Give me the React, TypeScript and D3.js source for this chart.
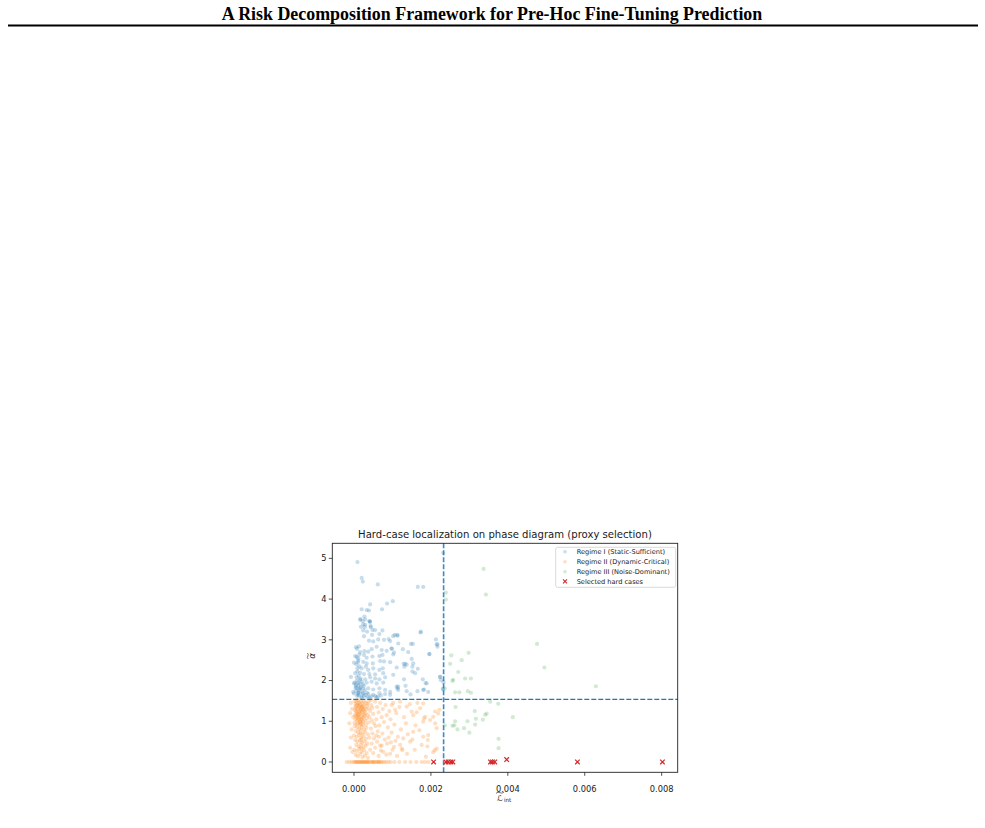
import React from "react";
import * as d3 from "d3";

// ---------- text ----------
const headerTitle = "A Risk Decomposition Framework for Pre-Hoc Fine-Tuning Prediction";
const chartTitle = "Hard-case localization on phase diagram (proxy selection)";
const legendLabels = [
  "Regime I (Static-Sufficient)",
  "Regime II (Dynamic-Critical)",
  "Regime III (Noise-Dominant)",
  "Selected hard cases",
];

// ---------- axes ----------
const xTickValues = [0, 0.002, 0.004, 0.006, 0.008];
const xTickLabels = ["0.000", "0.002", "0.004", "0.006", "0.008"];
const yTickValues = [0, 1, 2, 3, 4, 5];
const yTickLabels = ["0", "1", "2", "3", "4", "5"];
const xDomain = [-0.000564, 0.008417];
const yDomain = [-0.253, 5.37];

// thresholds (dashed lines)
const thresholdL = 0.00233;
const thresholdAlpha = 1.54;

// ---------- data: [L_int in units of 1e-3, alpha] ----------
const regime1 = [
  [0.09, 4.91], [0.2, 4.52], [0.23, 4.43], [0.62, 4.36], [1.66, 4.3], [1.8, 4.3], [2.32, 5.13],
  [0.42, 3.87], [1.01, 3.95], [0.86, 3.89], [0.2, 3.75], [0.39, 3.72], [0.73, 3.75],
  [0.16, 3.49], [0.17, 3.51], [0.42, 3.44], [0.24, 3.38], [0.33, 3.73], [0.27, 3.57], [0.29, 3.5],
  [0.41, 3.45], [0.44, 3.31], [0.28, 3.31], [0.24, 3.23], [0.48, 3.24], [0.74, 3.23],
  [1.74, 3.2], [2.13, 3.01], [2.17, 2.89], [1.96, 2.65], [1.48, 2.9], [1.29, 2.41], [1.31, 2.34],
  [1.52, 2.34], [1.52, 2.22], [1.3, 2.03], [1.11, 1.85], [1.13, 1.81], [1.47, 1.66], [1.82, 1.78],
  [1.86, 1.94], [2.24, 2.09], [2.26, 2.01], [2.31, 1.8], [2.33, 1.96], [1.13, 3.12], [1.06, 3.12],
  [0.94, 2.97], [0.98, 2.78], [1.41, 2.7],
  [0.23, 3.46], [0.4, 3.46], [0.18, 3.32], [0.29, 3.37], [0.43, 3.34],
  [0.55, 3.24], [0.34, 3.2], [0.26, 3.09], [0.47, 3.12], [0.66, 3.14], [1.02, 3.09], [1.13, 3.1], [1.73, 3.18],
  [0.39, 2.98], [0.5, 2.96], [0.63, 3.01], [0.78, 3.0], [0.9, 3.02], [1.15, 2.91], [1.53, 2.9], [2.15, 2.89], [2.17, 2.83],
  [0.05, 2.82], [0.16, 2.7], [0.27, 2.72], [0.37, 2.71], [0.46, 2.77], [0.59, 2.83], [0.72, 2.75], [0.85, 2.73], [0.98, 2.79], [1.27, 2.77],
  [0.03, 2.6], [0.14, 2.64], [0.26, 2.63], [0.33, 2.56], [0.48, 2.59], [0.66, 2.6], [0.74, 2.63], [1.02, 2.64], [1.04, 2.69], [1.96, 2.65],
  [0.0, 2.44], [0.11, 2.49], [0.24, 2.46], [0.33, 2.42], [0.49, 2.42], [0.68, 2.48], [0.78, 2.47], [0.94, 2.45], [1.33, 2.41], [1.5, 2.53], [1.54, 2.42],
  [0.09, 2.3], [0.2, 2.3], [0.31, 2.34], [0.37, 2.26], [0.5, 2.3], [0.66, 2.26], [0.75, 2.3], [1.11, 2.32], [1.37, 2.39], [1.66, 2.29],
  [0.03, 2.18], [0.16, 2.19], [0.26, 2.16], [0.4, 2.16], [0.55, 2.15], [0.76, 2.18], [1.02, 2.14], [1.59, 2.18],
  [-0.08, 2.09], [0.07, 2.08], [0.17, 2.05], [0.29, 2.03], [0.42, 2.08], [0.55, 2.05], [0.66, 2.03], [0.81, 2.08], [1.79, 2.03], [2.24, 2.09],
  [0.0, 1.93], [0.11, 1.95], [0.23, 1.91], [0.33, 1.95], [0.46, 1.97], [0.59, 1.93], [0.76, 1.95], [1.15, 1.85], [1.34, 1.87], [1.89, 1.93],
  [0.05, 1.85], [0.16, 1.82], [0.26, 1.87], [0.37, 1.81], [0.5, 1.78], [0.66, 1.81], [0.81, 1.77], [0.94, 1.72], [1.15, 1.77], [1.37, 1.74],
  [1.65, 1.74], [1.8, 1.77], [1.93, 1.72], [2.32, 1.78],
  [-0.02, 1.72], [0.11, 1.7], [0.24, 1.69], [0.37, 1.67], [0.5, 1.65], [0.66, 1.69], [0.81, 1.67], [0.94, 1.65], [0.4, 1.59], [0.59, 1.59],
  [0.08, 1.62], [0.1, 1.66], [0.12, 1.7], [0.06, 1.75], [0.14, 1.78], [0.09, 1.8], [0.18, 1.84], [0.11, 1.88], [0.05, 1.9], [0.15, 1.92],
  [0.2, 1.97], [0.08, 2.0], [0.13, 1.63], [0.22, 1.68], [0.17, 1.74], [0.04, 1.82], [0.19, 1.6], [0.26, 1.62], [0.3, 1.64], [0.34, 1.7],
  [0.28, 1.76], [0.12, 2.12], [0.09, 2.22], [0.14, 2.35], [0.06, 2.4], [0.11, 2.55], [0.08, 2.78], [0.13, 2.84], [0.21, 1.57], [0.35, 1.58],
  [0.45, 1.61], [0.55, 1.62], [0.62, 1.6], [0.7, 1.63], [0.0, 1.68], [0.02, 1.95], [0.16, 2.02], [0.24, 1.8], [0.1, 2.45], [0.07, 2.58],
];

const regime2 = [
  // dense core
  [0.02, 1.5], [0.06, 1.48], [0.1, 1.52], [0.14, 1.46], [0.18, 1.5], [0.22, 1.44], [0.26, 1.49], [0.3, 1.45],
  [0.04, 1.42], [0.08, 1.4], [0.12, 1.38], [0.16, 1.41], [0.2, 1.36], [0.24, 1.39], [0.28, 1.34], [0.34, 1.38],
  [0.03, 1.33], [0.07, 1.3], [0.11, 1.32], [0.15, 1.28], [0.19, 1.31], [0.23, 1.27], [0.27, 1.25], [0.32, 1.29],
  [0.05, 1.24], [0.09, 1.21], [0.13, 1.23], [0.17, 1.19], [0.21, 1.22], [0.25, 1.17], [0.3, 1.2], [0.36, 1.16],
  [0.02, 1.15], [0.06, 1.12], [0.1, 1.14], [0.14, 1.1], [0.18, 1.12], [0.22, 1.08], [0.26, 1.11], [0.33, 1.07],
  [0.04, 1.05], [0.08, 1.02], [0.12, 1.04], [0.16, 1.0], [0.2, 1.03], [0.24, 0.98], [0.29, 1.01], [0.38, 0.97],
  [0.01, 0.96], [0.07, 0.93], [0.11, 0.95], [0.15, 0.91], [0.19, 0.94], [0.23, 0.9], [0.31, 0.92], [0.4, 1.1],
  [0.42, 1.25], [0.45, 1.4], [0.38, 1.48], [0.44, 1.52], [0.48, 1.33], [0.5, 1.18], [0.46, 1.02], [0.09, 1.09],
  [0.13, 1.17], [0.17, 1.26], [0.21, 1.35], [0.11, 1.44], [0.15, 1.36], [0.19, 1.05], [0.05, 1.37], [0.25, 1.3],
  [0.28, 1.14], [0.07, 1.18], [0.03, 1.27], [0.35, 1.43], [0.39, 1.32], [0.16, 0.97], [-0.02, 1.1], [-0.05, 1.3],
  [-0.08, 1.45], [-0.1, 1.2], [-0.12, 0.95],
  // lower middle
  [0.02, 0.88], [0.08, 0.85], [0.14, 0.82], [0.2, 0.86], [0.26, 0.8], [0.32, 0.84], [0.05, 0.76], [0.11, 0.73],
  [0.17, 0.78], [0.23, 0.7], [0.29, 0.74], [0.36, 0.68], [0.0, 0.65], [0.07, 0.62], [0.13, 0.66], [0.19, 0.6],
  [0.25, 0.63], [0.31, 0.57], [0.4, 0.6], [0.03, 0.54], [0.09, 0.5], [0.15, 0.53], [0.21, 0.47], [0.27, 0.51],
  [0.34, 0.45], [0.06, 0.42], [0.12, 0.38], [0.18, 0.43], [0.24, 0.36], [0.3, 0.4], [0.01, 0.3], [0.08, 0.27],
  [0.14, 0.32], [0.2, 0.25], [0.26, 0.29], [0.33, 0.22], [0.04, 0.18], [0.1, 0.14], [0.16, 0.2], [0.22, 0.12],
  [0.28, 0.16], [0.36, 0.1], [-0.08, 0.6], [-0.1, 0.35], [-0.06, 0.8], [-0.04, 0.25], [0.44, 0.82], [0.48, 0.7],
  [0.52, 0.58], [0.46, 0.45], [0.55, 0.35], [0.5, 0.22], [0.42, 0.3], [0.58, 0.65], [0.62, 0.75], [0.6, 0.5],
  [0.65, 0.62], [0.68, 0.4], [0.56, 0.88], [0.52, 0.95], [0.7, 0.28], [0.17, 0.7], [0.19, 0.55], [0.18, 0.35],
  // right side
  [0.98, 1.4], [1.07, 1.28], [1.2, 1.48], [1.37, 1.36], [1.5, 1.24], [1.54, 1.15], [1.72, 1.32], [1.8, 1.44],
  [1.85, 1.11], [1.98, 1.03], [2.11, 0.95], [2.19, 1.19], [2.22, 1.28], [2.15, 0.83], [1.93, 0.66], [1.8, 0.62],
  [1.76, 0.42], [1.54, 0.74], [1.46, 0.5], [1.28, 0.58], [1.24, 0.33], [1.91, 0.38], [1.87, 0.13], [2.15, 0.33],
  [2.06, 1.11], [2.11, 1.24], [2.1, 0.29], [2.06, 0.24], [1.92, 0.54], [1.8, 0.99], [1.82, 1.07], [1.63, 1.22],
  [1.26, 0.29], [1.04, 0.37], [1.52, 0.55],
  [0.55, 1.48], [0.6, 1.35], [0.64, 1.22], [0.68, 1.45], [0.72, 1.1], [0.75, 1.3], [0.78, 0.98], [0.82, 1.4],
  [0.85, 1.15], [0.88, 0.85], [0.92, 1.25], [0.95, 1.05], [0.98, 0.72], [1.02, 1.45], [1.05, 0.92], [1.1, 1.2],
  [1.14, 0.62], [1.18, 1.35], [1.22, 0.8], [1.3, 1.1], [1.35, 0.95], [1.4, 0.68], [1.45, 1.42], [0.58, 1.05],
  [0.66, 0.9], [0.74, 0.7], [0.8, 0.55], [0.86, 0.45], [0.9, 0.6], [0.96, 0.48], [1.0, 0.3], [1.08, 0.52],
  [0.76, 0.25], [0.84, 0.18], [0.64, 0.15], [0.72, 0.4], [0.94, 0.2], [1.12, 0.15], [1.2, 0.42], [1.6, 0.9],
  [1.65, 1.45], [1.7, 0.78], [1.38, 0.2], [1.58, 0.3],
  // alpha = 0 row
  [-0.19, 0], [-0.12, 0], [-0.06, 0], [-0.01, 0], [0.03, 0], [0.07, 0], [0.1, 0], [0.13, 0], [0.17, 0], [0.2, 0],
  [0.24, 0], [0.27, 0], [0.31, 0], [0.34, 0], [0.38, 0], [0.41, 0], [0.45, 0], [0.48, 0], [0.52, 0], [0.55, 0],
  [0.59, 0], [0.62, 0], [0.66, 0], [0.7, 0], [0.73, 0], [0.78, 0], [0.83, 0], [0.89, 0], [0.95, 0], [1.05, 0],
  [1.18, 0], [1.33, 0], [1.47, 0], [1.62, 0], [1.76, 0], [1.85, 0], [1.94, 0],
  [0.05, 0], [0.15, 0], [0.22, 0], [0.29, 0], [0.36, 0], [0.5, 0], [0.64, 0],
];

const regime3 = [
  [3.37, 4.74], [3.43, 4.11], [2.39, 4.16], [2.39, 3.99], [4.76, 2.9], [4.95, 2.32], [6.29, 1.86],
  [2.53, 2.62], [2.98, 2.68], [2.8, 2.5], [2.5, 2.41], [2.71, 2.21], [2.58, 2.02], [2.56, 1.99],
  [2.89, 2.05], [3.04, 2.05], [2.36, 1.81], [2.63, 1.71], [2.74, 1.71], [2.96, 1.74], [3.04, 1.7],
  [3.54, 1.48], [3.75, 1.43], [2.64, 1.35], [3.14, 1.25], [3.45, 1.19], [3.41, 1.16], [4.13, 1.1],
  [3.17, 1.06], [3.35, 1.04], [2.63, 1.0], [2.95, 1.0], [3.15, 0.92], [2.36, 0.9], [2.56, 0.89],
  [2.61, 0.9], [2.86, 0.83], [2.69, 0.8], [3.0, 0.72], [3.76, 0.57], [3.76, 0.34],
];

const hardCases = [
  [2.07, 0], [2.39, 0], [2.45, 0], [2.52, 0], [2.57, 0], [3.55, 0], [3.6, 0], [3.66, 0],
  [3.97, 0.06], [5.81, 0], [8.02, 0],
];

const MILLI = 1e-3;

// ---------- layout ----------
const W = 985;
const H = 828;
const plot = { left: 332.3, right: 677.7, top: 543.3, bottom: 772.3 };
const C0 = "#1f77b4";
const C1 = "#ff7f0e";
const C2 = "#2ca02c";
const C3 = "#d62728";
const FONT = "'DejaVu Sans', Verdana, sans-serif";

export default function App() {
  const x = d3.scaleLinear().domain(xDomain).range([plot.left, plot.right]);
  const y = d3.scaleLinear().domain(yDomain).range([plot.bottom, plot.top]);
  const px = (d: number[]) => x(d[0] * MILLI);
  const py = (d: number[]) => y(d[1]);
  const r = 2.1;
  const cross = 2.3;

  const dots = (data: number[][], color: string, op: number) =>
    data.map((d, i) => (
      <circle key={i} cx={px(d)} cy={py(d)} r={r} fill={color} fillOpacity={op} />
    ));

  const legendRows = [551.7, 561.7, 571.7, 581.4];
  const legendColors = [C0, C1, C2];

  const labX = 500;
  const labY = 800.5;

  return (
    <svg
      width={W}
      height={H}
      style={{ position: "absolute", left: 0, top: 0, background: "#fff" }}
      xmlns="http://www.w3.org/2000/svg"
    >
      <rect x={0} y={0} width={W} height={H} fill="#fff" />
      {/* paper header */}
      <text
        x={492}
        y={20}
        textAnchor="middle"
        fontFamily="'Liberation Serif', 'Times New Roman', serif"
        fontWeight="bold"
        fontSize={17.9}
        fill="#000"
      >
        {headerTitle}
      </text>
      <line x1={8} x2={978} y1={25.5} y2={25.5} stroke="#000" strokeWidth={1.8} />

      {/* chart title */}
      <text x={(plot.left + plot.right) / 2} y={538} textAnchor="middle" fontFamily={FONT} fontSize={10.1} fill="#1a1a1a">
        {chartTitle}
      </text>

      {/* scatter */}
      <g>{dots(regime1, C0, 0.25)}</g>
      <g>{dots(regime2, C1, 0.25)}</g>
      <g>{dots(regime3, C2, 0.22)}</g>

      {/* threshold lines */}
      <line
        x1={x(thresholdL)} x2={x(thresholdL)} y1={plot.top} y2={plot.bottom}
        stroke={C0} strokeWidth={1.6} strokeOpacity={0.85} strokeDasharray="5,2"
      />
      <line
        x1={plot.left} x2={plot.right} y1={y(thresholdAlpha)} y2={y(thresholdAlpha)}
        stroke={C0} strokeWidth={1.25} strokeDasharray="5,2"
      />

      {/* hard cases */}
      <g stroke={C3} strokeWidth={1.2}>
        {hardCases.map((d, i) => (
          <path
            key={i}
            d={`M${px(d) - cross},${py(d) - cross}L${px(d) + cross},${py(d) + cross}M${px(d) - cross},${py(d) + cross}L${px(d) + cross},${py(d) - cross}`}
          />
        ))}
      </g>

      {/* frame */}
      <rect
        x={plot.left} y={plot.top} width={plot.right - plot.left} height={plot.bottom - plot.top}
        fill="none" stroke="#222" strokeWidth={0.9}
      />

      {/* x ticks */}
      {xTickValues.map((v, i) => (
        <g key={i}>
          <line x1={x(v)} x2={x(v)} y1={plot.bottom} y2={plot.bottom + 3.5} stroke="#222" strokeWidth={0.8} />
          <text x={x(v)} y={792.3} textAnchor="middle" fontFamily={FONT} fontSize={8.3} fill="#1a1a1a">
            {xTickLabels[i]}
          </text>
        </g>
      ))}
      {/* y ticks */}
      {yTickValues.map((v, i) => (
        <g key={i}>
          <line x1={plot.left - 3.5} x2={plot.left} y1={y(v)} y2={y(v)} stroke="#222" strokeWidth={0.8} />
          <text x={326.5} y={y(v)} dy="0.35em" textAnchor="end" fontFamily={FONT} fontSize={8.3} fill="#1a1a1a">
            {yTickLabels[i]}
          </text>
        </g>
      ))}

      {/* x axis label: L-tilde_int */}
      <text x={labX} y={labY} textAnchor="middle" fontFamily={FONT} fontSize={8} fill="#1a1a1a">
        {"ℒ"}
      </text>
      <path
        d={`M${labX - 4},${labY - 7.2} Q${labX - 2},${labY - 9} ${labX},${labY - 7.8} T${labX + 4},${labY - 8.4}`}
        fill="none" stroke="#1a1a1a" strokeWidth={0.6}
      />
      <text x={labX + 4} y={labY + 1.8} fontFamily={FONT} fontSize={5.6} fill="#1a1a1a">
        int
      </text>

      {/* y axis label: alpha-tilde */}
      <g transform="translate(315,656) rotate(-90)">
        <text x={0} y={0} textAnchor="middle" fontFamily={FONT} fontSize={8.5} fontStyle="italic" fill="#1a1a1a">
          {"α"}
        </text>
        <path d="M-3,-6.8 Q-1.5,-8.3 0,-7.2 T3,-7.6" fill="none" stroke="#1a1a1a" strokeWidth={0.6} />
      </g>

      {/* legend */}
      <rect x={555.7} y={547.3} width={120} height={40} rx={2} fill="#fff" fillOpacity={0.8} stroke="#cfcfcf" strokeWidth={0.8} />
      {legendLabels.map((lab, i) => (
        <g key={i}>
          {i < 3 ? (
            <circle cx={565} cy={legendRows[i]} r={1.8} fill={legendColors[i]} fillOpacity={i === 2 ? 0.22 : 0.25} />
          ) : (
            <path
              d={`M${565 - 2},${legendRows[i] - 2}L${565 + 2},${legendRows[i] + 2}M${565 - 2},${legendRows[i] + 2}L${565 + 2},${legendRows[i] - 2}`}
              stroke={C3}
              strokeWidth={1.1}
            />
          )}
          <text x={576.7} y={legendRows[i]} dy="0.35em" fontFamily={FONT} fontSize={6.6} fill="#1a1a1a">
            {lab}
          </text>
        </g>
      ))}
    </svg>
  );
}
